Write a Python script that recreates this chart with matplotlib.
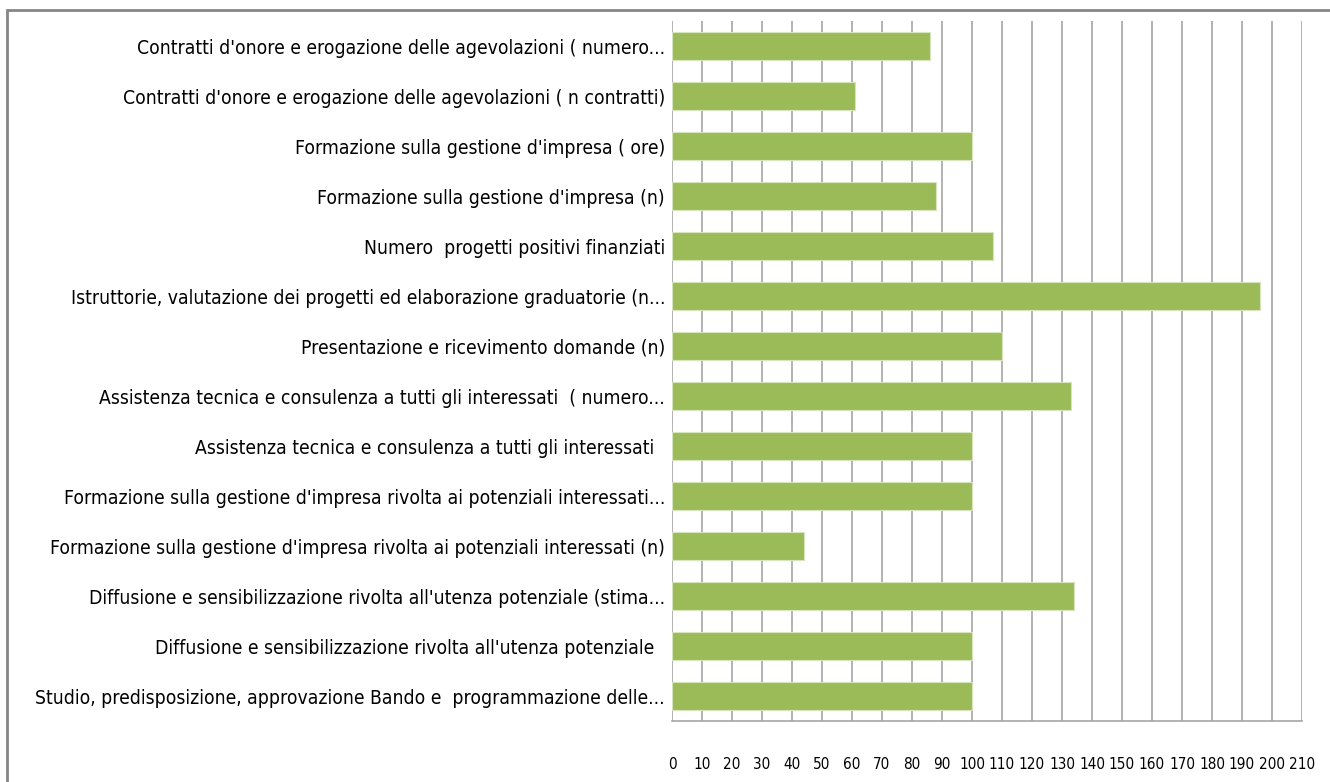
import matplotlib
matplotlib.use('Agg')
import matplotlib.pyplot as plt
import numpy as np

categories = [
    "Contratti d'onore e erogazione delle agevolazioni ( numero...",
    "Contratti d'onore e erogazione delle agevolazioni ( n contratti)",
    "Formazione sulla gestione d'impresa ( ore)",
    "Formazione sulla gestione d'impresa (n)",
    "Numero  progetti positivi finanziati",
    "Istruttorie, valutazione dei progetti ed elaborazione graduatorie (n...",
    "Presentazione e ricevimento domande (n)",
    "Assistenza tecnica e consulenza a tutti gli interessati  ( numero...",
    "Assistenza tecnica e consulenza a tutti gli interessati  ",
    "Formazione sulla gestione d'impresa rivolta ai potenziali interessati...",
    "Formazione sulla gestione d'impresa rivolta ai potenziali interessati (n)",
    "Diffusione e sensibilizzazione rivolta all'utenza potenziale (stima...",
    "Diffusione e sensibilizzazione rivolta all'utenza potenziale  ",
    "Studio, predisposizione, approvazione Bando e  programmazione delle...",
]
values = [86, 61, 100, 88, 107, 196, 110, 133, 100, 100, 44, 134, 100, 100]
xticks = list(range(0, 211, 10))

fig = plt.figure(figsize=(13.3, 7.82), dpi=100)
ax = fig.add_axes([672 / 1330, 1 - 721 / 782, 630 / 1330, 700 / 782])

y = np.arange(len(categories))
ax.barh(y, values, height=0.57, color='#9BBB59', edgecolor='#D7E4BD', linewidth=0.8, zorder=3)
ax.set_ylim(len(categories) - 0.5, -0.5)
ax.set_xlim(0, 210)

ax.set_xticks(xticks)
ax.set_xticklabels([str(t) for t in xticks], family='DejaVu Sans', stretch='condensed', fontsize=11)
ax.tick_params(axis='x', length=0, pad=26)
ax.set_yticks(y)
ax.set_yticklabels(categories, family='DejaVu Sans', stretch='condensed', fontsize=13.9)
ax.tick_params(axis='y', length=0, pad=5)

ax.grid(axis='x', color='#A6A6A6', linewidth=1.2, zorder=0)
for s in ['top', 'right', 'left']:
    ax.spines[s].set_visible(False)
ax.spines['bottom'].set_color('#A6A6A6')
ax.spines['bottom'].set_linewidth(1.2)

# chart border
fig.patches.append(plt.Rectangle((7 / 1330, -0.05), 1.1, 1 - 10 / 782 + 0.05,
                                 transform=fig.transFigure, fill=False,
                                 edgecolor='#868686', linewidth=2))

fig.savefig('out.png', dpi=100)
